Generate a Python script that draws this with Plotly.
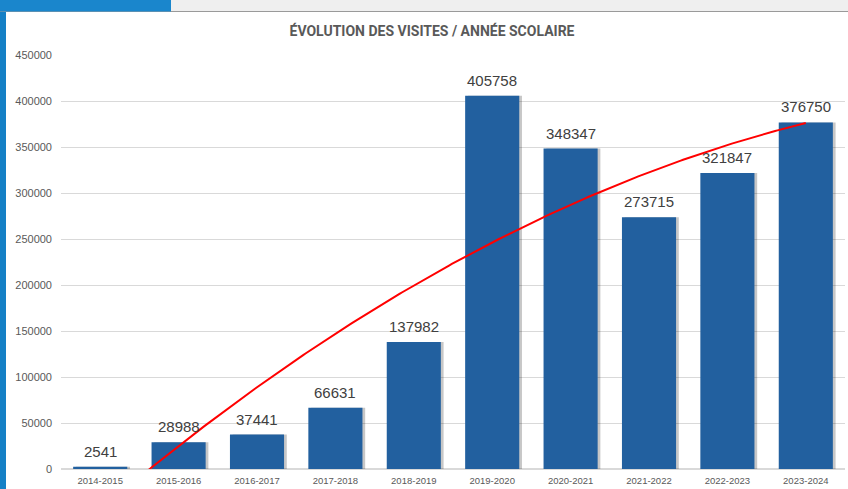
import numpy as np
import plotly.graph_objects as go

categories = ["2014-2015", "2015-2016", "2016-2017", "2017-2018", "2018-2019",
              "2019-2020", "2020-2021", "2021-2022", "2022-2023", "2023-2024"]
visits = [2541, 28988, 37441, 66631, 137982, 405758, 348347, 273715, 321847, 376750]
y_ticks = [0, 50000, 100000, 150000, 200000, 250000, 300000, 350000, 400000, 450000]

W, H = 848, 489
L, R, T, B = 61, 3, 55, 20
PW, PH = W - L - R, H - T - B

def px_x(x):
    return (x - L) / PW

def px_y(y):
    return (H - B - y) / PH

idx = np.arange(len(categories))

# Excel-style polynomial (order 2) trendline fitted on the bar values
coef = np.polyfit(idx, visits, 2)
tx = np.linspace(0, len(categories) - 1, 300)
ty = np.polyval(coef, tx)

BAR_W = 0.69
fig = go.Figure()
# bar shadows
fig.add_trace(go.Bar(
    x=idx, y=visits, width=BAR_W, offset=-BAR_W / 2 + 0.035,
    marker=dict(color="rgba(0,0,0,0.22)", line=dict(width=0)),
    hoverinfo="skip", showlegend=False,
))
fig.add_trace(go.Bar(
    x=idx, y=visits, width=BAR_W, offset=-BAR_W / 2,
    marker=dict(color="#22609f", line=dict(width=0)),
    showlegend=False,
))
fig.add_trace(go.Scatter(
    x=tx, y=ty, mode="lines", line=dict(color="#ff0000", width=2),
    hoverinfo="skip", showlegend=False,
))

annotations = [
    dict(x=int(i), y=v, xref="x", yref="y", text=str(v), showarrow=False,
         yanchor="bottom", yshift=5,
         font=dict(family="Liberation Sans, Arial", size=15, color="#404040"))
    for i, v in zip(idx, visits)
]

shapes = [
    # left blue strip
    dict(type="rect", xref="paper", yref="paper", x0=px_x(0), x1=px_x(6),
         y0=px_y(489), y1=px_y(0), fillcolor="#1580c6", line=dict(width=0), layer="above"),
    # top grey bar
    dict(type="rect", xref="paper", yref="paper", x0=px_x(0), x1=px_x(848),
         y0=px_y(11), y1=px_y(0), fillcolor="#efefef", line=dict(width=0), layer="above"),
    dict(type="line", xref="paper", yref="paper", x0=px_x(0), x1=px_x(848),
         y0=px_y(11.5), y1=px_y(11.5), line=dict(color="#9a9a9a", width=1), layer="above"),
    # top blue strip
    dict(type="rect", xref="paper", yref="paper", x0=px_x(0), x1=px_x(171),
         y0=px_y(11.5), y1=px_y(0), fillcolor="#1a86cc", line=dict(width=0), layer="above"),
]

fig.update_layout(
    width=W, height=H,
    margin=dict(l=L, r=R, t=T, b=B),
    paper_bgcolor="white", plot_bgcolor="white",
    barmode="overlay",
    title=dict(text="<b>ÉVOLUTION DES VISITES / ANNÉE SCOLAIRE</b>",
               font=dict(family="Roboto", size=14, color="#595959"),
               x=432 / W, xref="container", xanchor="center",
               y=1 - 31 / H, yref="container", yanchor="middle"),
    xaxis=dict(
        range=[-0.5, len(categories) - 0.5],
        tickmode="array", tickvals=idx, ticktext=categories,
        tickfont=dict(family="Liberation Sans, Arial", size=9.5, color="#595959"),
        showgrid=False, zeroline=False, showline=False, ticks="",
        ticklabelstandoff=4,
    ),
    yaxis=dict(
        range=[0, 450000], tickmode="array", tickvals=y_ticks,
        ticktext=[str(v) for v in y_ticks],
        tickfont=dict(family="Liberation Sans, Arial", size=11, color="#595959"),
        gridcolor="#d9d9d9", gridwidth=1, zeroline=True, zerolinecolor="#d9d9d9",
        showline=False, ticks="", ticklabelstandoff=8,
    ),
    shapes=shapes,
    annotations=annotations,
)

fig.write_html("out.html",
               config={"displayModeBar": False},
               post_script="document.body.style.margin='0';document.body.style.overflow='hidden';")
